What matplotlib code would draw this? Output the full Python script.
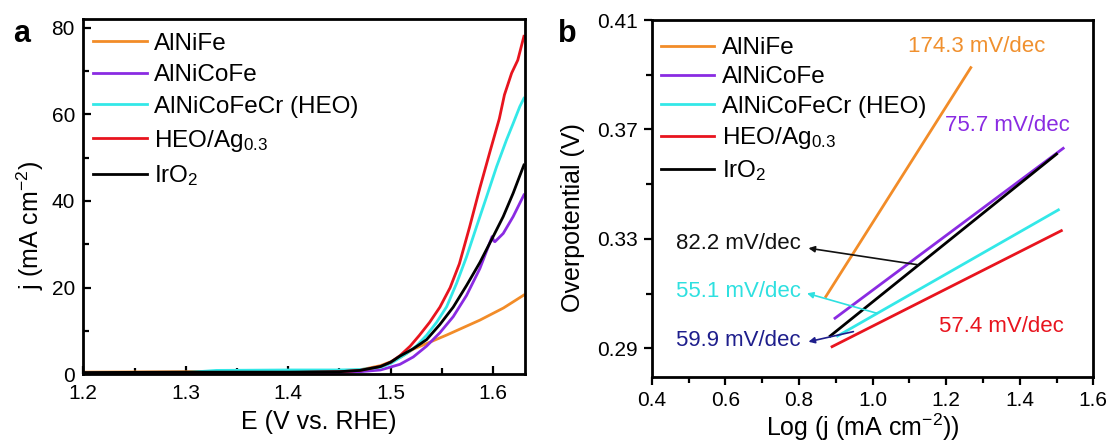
import matplotlib
matplotlib.use("Agg")
import matplotlib.pyplot as plt

plt.rcParams['font.family'] = ['Liberation Sans', 'DejaVu Sans']
plt.rcParams['mathtext.fontset'] = 'custom'
plt.rcParams['mathtext.rm'] = 'Liberation Sans'
plt.rcParams['mathtext.it'] = 'Liberation Sans:italic'
plt.rcParams['mathtext.bf'] = 'Liberation Sans:bold'
plt.rcParams['mathtext.default'] = 'regular'

# ---------------- data ----------------
series_names = ['AlNiFe', 'AlNiCoFe', 'AlNiCoFeCr (HEO)', 'HEO/Ag$_{0.3}$', 'IrO$_2$']
series_colors = ['#F28C28', '#8A2BE2', '#33E8E8', '#E8141E', '#000000']

# panel a: LSV curves
E_alnife = [1.20, 1.30, 1.40, 1.45, 1.47, 1.49, 1.50, 1.51, 1.522, 1.555, 1.587, 1.61, 1.63]
j_alnife = [0.5, 0.6, 0.6, 0.7, 1.0, 2.0, 2.9, 4.0, 5.8, 9.1, 12.5, 15.3, 18.3]

E_alnicofe = [1.20, 1.30, 1.40, 1.45, 1.47, 1.49, 1.496, 1.509, 1.522, 1.535, 1.548, 1.561,
              1.574, 1.587, 1.599, 1.6005, 1.6017, 1.6098, 1.6195, 1.630]
j_alnicofe = [0.2, 0.2, 0.3, 0.4, 0.6, 1.0, 1.4, 2.3, 4.0, 6.5, 9.6, 13.3,
              18.2, 24.4, 31.8, 30.8, 30.6, 32.5, 36.4, 41.4]

E_heo = [1.20, 1.30, 1.33, 1.40, 1.45, 1.47, 1.49, 1.50, 1.5155, 1.5253, 1.535, 1.5448,
         1.5546, 1.5643, 1.574, 1.5838, 1.5936, 1.6033, 1.613, 1.6195, 1.626, 1.630]
j_heo = [0.3, 0.4, 0.9, 1.0, 1.0, 1.1, 1.6, 2.5, 4.8, 6.6, 9.0, 12.0,
         15.6, 21.0, 27.1, 34.1, 41.0, 47.9, 54.1, 57.9, 61.8, 63.7]

E_heoag = [1.20, 1.30, 1.40, 1.45, 1.47, 1.49, 1.50, 1.509, 1.519, 1.528, 1.538, 1.548,
           1.558, 1.567, 1.577, 1.587, 1.597, 1.606, 1.611, 1.618, 1.624, 1.630]
j_heoag = [0.3, 0.3, 0.4, 0.6, 0.9, 1.8, 2.8, 4.3, 6.5, 9.0, 12.0, 15.5,
           20.0, 25.5, 34.0, 43.0, 51.5, 59.0, 64.5, 69.5, 72.5, 78.0]

E_iro2 = [1.20, 1.30, 1.40, 1.45, 1.47, 1.49, 1.50, 1.509, 1.522, 1.535, 1.548, 1.561,
          1.574, 1.587, 1.600, 1.6098, 1.6195, 1.630]
j_iro2 = [0.4, 0.5, 0.5, 0.6, 0.9, 1.8, 2.8, 4.2, 5.9, 8.0, 11.5, 15.5,
          20.5, 25.8, 31.8, 36.4, 41.8, 48.3]

# panel b: Tafel fit segments (log j, overpotential)
tafel_x0 = [0.873, 0.898, 0.905, 0.890, 0.885]
tafel_x1 = [1.267, 1.518, 1.505, 1.513, 1.500]
tafel_y0 = [0.3089, 0.3010, 0.2945, 0.2906, 0.2945]
tafel_y1 = [0.3926, 0.3631, 0.3406, 0.3330, 0.3610]

slope_labels = ['174.3 mV/dec', '75.7 mV/dec', '55.1 mV/dec', '57.4 mV/dec', '82.2 mV/dec', '59.9 mV/dec']
slope_colors = ['#F0902E', '#8A2BE2', '#2EE0E0', '#E8141E', '#111111', '#1E1E8C']
slope_text_x = [1.283, 1.367, 0.636, 1.349, 0.636, 0.636]
slope_text_y = [0.4003, 0.3716, 0.3107, 0.2979, 0.3284, 0.2930]
# arrows: (label index, tail x, tail y, head x, head y)
arrow_label_idx = [4, 2, 5]
arrow_tail_x = [1.125, 1.012, 0.948]
arrow_tail_y = [0.3205, 0.3028, 0.2961]
arrow_head_x = [0.826, 0.822, 0.826]
arrow_head_y = [0.3266, 0.3101, 0.2924]

# ---------------- figure ----------------
fig = plt.figure(figsize=(11.15, 4.48), dpi=100)
ax1 = fig.add_axes([0.0747, 0.1645, 0.3961, 0.7931])
ax2 = fig.add_axes([0.5845, 0.1578, 0.3961, 0.7975])

E_all = [E_alnife, E_alnicofe, E_heo, E_heoag, E_iro2]
j_all = [j_alnife, j_alnicofe, j_heo, j_heoag, j_iro2]
for E, j, name, c in zip(E_all, j_all, series_names, series_colors):
    ax1.plot(E, j, color=c, lw=2.0, label=name)

leg_kw = dict(loc='upper left', frameon=False, fontsize=17.5, borderpad=0, borderaxespad=0,
              handlelength=2.2, handletextpad=0.3)

ax1.set_xlim(1.2, 1.631)
ax1.set_ylim(0, 82)
ax1.set_xticks([1.2, 1.3, 1.4, 1.5, 1.6])
ax1.set_xticks([1.25, 1.35, 1.45, 1.55], minor=True)
ax1.set_yticks([0, 20, 40, 60, 80])
ax1.set_yticks([10, 30, 50, 70], minor=True)
ax1.tick_params(which='both', direction='in', width=1.6, labelsize=15)
ax1.tick_params(which='major', length=6)
ax1.tick_params(which='minor', length=4)
ax1.tick_params(axis='x', pad=7)
ax1.tick_params(axis='y', pad=6)
ax1.set_xlabel('E (V vs. RHE)', fontsize=18)
ax1.set_ylabel('j (mA cm$^{-2}$)', fontsize=18)
ax1.xaxis.set_label_coords(0.533, -0.133)
ax1.xaxis.label.set_va('center')
ax1.yaxis.set_label_coords(-0.121, 0.42)
ax1.yaxis.label.set_va('center')
ax1.legend(bbox_to_anchor=(0.023, 0.962), labelspacing=0.4, **leg_kw)

for x0, x1, y0, y1, name, c in zip(tafel_x0, tafel_x1, tafel_y0, tafel_y1, series_names, series_colors):
    ax2.plot([x0, x1], [y0, y1], color=c, lw=2.0, label=name)

for t, c, x, y in zip(slope_labels, slope_colors, slope_text_x, slope_text_y):
    ax2.text(x, y, t, color=c, fontsize=16, ha='center', va='center')
for k, tx, ty, hx, hy in zip(arrow_label_idx, arrow_tail_x, arrow_tail_y, arrow_head_x, arrow_head_y):
    ax2.annotate('', xy=(hx, hy), xytext=(tx, ty),
                 arrowprops=dict(arrowstyle='-|>', color=slope_colors[k], lw=1.2,
                                 mutation_scale=9, shrinkA=0, shrinkB=0))

ax2.set_xlim(0.4, 1.6)
ax2.set_ylim(0.2794, 0.41)
ax2.set_xticks([0.4, 0.6, 0.8, 1.0, 1.2, 1.4, 1.6])
ax2.set_xticks([0.5, 0.7, 0.9, 1.1, 1.3, 1.5], minor=True)
ax2.set_yticks([0.29, 0.33, 0.37, 0.41])
ax2.set_yticks([0.31, 0.35, 0.39], minor=True)
ax2.set_xticklabels(['0.4', '0.6', '0.8', '1.0', '1.2', '1.4', '1.6'])
ax2.set_yticklabels(['0.29', '0.33', '0.37', '0.41'])
ax2.tick_params(which='both', direction='out', width=1.6, labelsize=15, pad=4)
ax2.tick_params(which='major', length=6)
ax2.tick_params(which='minor', length=4)
ax2.set_xlabel('Log (j (mA cm$^{-2}$))', fontsize=18)
ax2.set_ylabel('Overpotential (V)', fontsize=18)
ax2.xaxis.set_label_coords(0.4785, -0.139)
ax2.xaxis.label.set_va('center')
ax2.yaxis.set_label_coords(-0.178, 0.446)
ax2.yaxis.label.set_va('center')
ax2.legend(bbox_to_anchor=(0.021, 0.952), labelspacing=0.3, **leg_kw)

for ax in (ax1, ax2):
    for s in ax.spines.values():
        s.set_linewidth(2.0)

fig.text(13 / 1115, 1 - 41.7 / 448, 'a', fontsize=22, fontweight='bold', ha='left', va='baseline')
fig.text(558 / 1115, 1 - 41.7 / 448, 'b', fontsize=22, fontweight='bold', ha='left', va='baseline')

fig.savefig('out.png', dpi=100)
